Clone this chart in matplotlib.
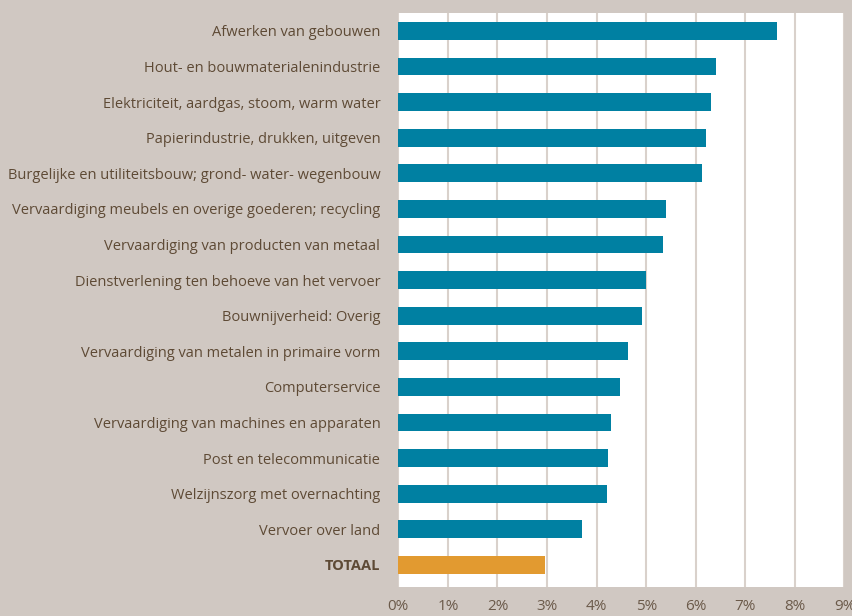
import numpy as np
import matplotlib.pyplot as plt
from matplotlib.ticker import FuncFormatter

# sectors, top to bottom
categories = [
    "Afwerken van gebouwen",
    "Hout- en bouwmaterialenindustrie",
    "Elektriciteit, aardgas, stoom, warm water",
    "Papierindustrie, drukken, uitgeven",
    "Burgelijke en utiliteitsbouw; grond- water- wegenbouw",
    "Vervaardiging meubels en overige goederen; recycling",
    "Vervaardiging van producten van metaal",
    "Dienstverlening ten behoeve van het vervoer",
    "Bouwnijverheid: Overig",
    "Vervaardiging van metalen in primaire vorm",
    "Computerservice",
    "Vervaardiging van machines en apparaten",
    "Post en telecommunicatie",
    "Welzijnszorg met overnachting",
    "Vervoer over land",
    "TOTAAL",
]
values = [7.63, 6.41, 6.30, 6.20, 6.12, 5.40, 5.34, 5.00, 4.91,
          4.63, 4.47, 4.29, 4.23, 4.21, 3.70, 2.96]
xticks = list(range(0, 10))

BG = "#d0c8c2"
TEAL = "#0080a2"
ORANGE = "#e29a30"
TEXT = "#5e4a35"
GRID = "#d9d1cb"

plt.rcParams["font.family"] = ["Open Sans", "DejaVu Sans"]

fig = plt.figure(figsize=(8.53, 6.16), dpi=100, facecolor=BG)
ax = fig.add_axes([0.467, 0.0476, 0.523, 0.9318])
ax.set_facecolor("white")

y = np.arange(len(categories))
colors = [TEAL] * (len(categories) - 1) + [ORANGE]
ax.barh(y, values, height=0.5, color=colors, zorder=3)

ax.set_xlim(0, 9)
ax.set_ylim(len(categories) - 1 + 0.61, -0.51)
ax.set_xticks(xticks)
ax.xaxis.set_major_formatter(FuncFormatter(lambda v, p: f"{int(v)}%"))
ax.grid(axis="x", color=GRID, linewidth=1.5, zorder=0)
ax.grid(axis="y", visible=False)
for s in ax.spines.values():
    s.set_visible(False)

ax.set_yticks(y)
ax.set_yticklabels(categories, fontsize=10.5, color=TEXT)
ax.get_yticklabels()[-1].set_fontweight("bold")
ax.tick_params(axis="y", length=0, pad=13)
ax.tick_params(axis="x", length=0, pad=9, labelsize=11, labelcolor="#6b5a4a")

fig.savefig("out.png", dpi=100, facecolor=BG)
